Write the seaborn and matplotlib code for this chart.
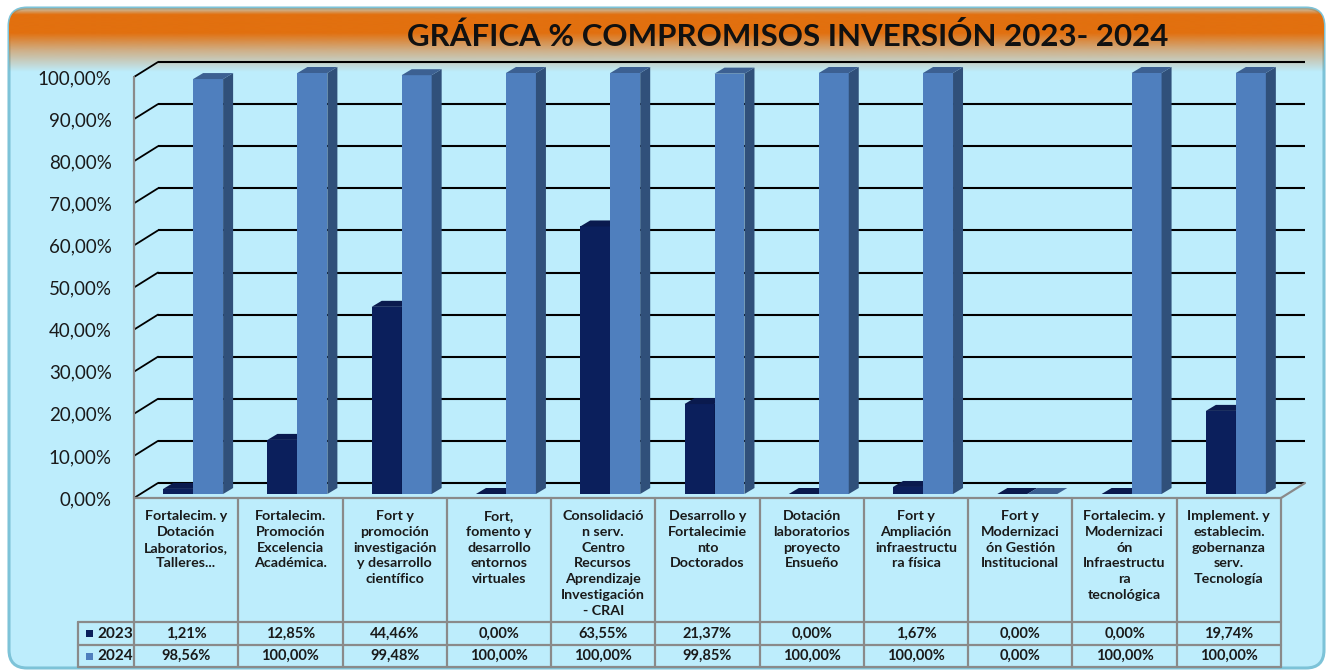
import numpy as np
import pandas as pd
import matplotlib
matplotlib.use('Agg')
import matplotlib.pyplot as plt
import seaborn as sns
from matplotlib.patches import FancyBboxPatch, Polygon, Rectangle
from matplotlib.colors import to_rgb

# Data
categories = [
    "Fortalecim. y\nDotación\nLaboratorios,\nTalleres...",
    "Fortalecim.\nPromoción\nExcelencia\nAcadémica.",
    "Fort y\npromoción\ninvestigación\ny desarrollo\ncientífico",
    "Fort,\nfomento y\ndesarrollo\nentornos\nvirtuales",
    "Consolidació\nn serv.\nCentro\nRecursos\nAprendizaje\nInvestigación\n- CRAI",
    "Desarrollo y\nFortalecimie\nnto\nDoctorados",
    "Dotación\nlaboratorios\nproyecto\nEnsueño",
    "Fort y\nAmpliación\ninfraestructu\nra física",
    "Fort y\nModernizaci\nón Gestión\nInstitucional",
    "Fortalecim. y\nModernizaci\nón\nInfraestructu\nra\ntecnológica",
    "Implement. y\nestablecim.\ngobernanza\nserv.\nTecnología",
]
years = ["2023", "2024"]
values_2023 = [1.21, 12.85, 44.46, 0.00, 63.55, 21.37, 0.00, 1.67, 0.00, 0.00, 19.74]
values_2024 = [98.56, 100.00, 99.48, 100.00, 100.00, 99.85, 100.00, 100.00, 0.00, 100.00, 100.00]
title = "GRÁFICA % COMPROMISOS INVERSIÓN 2023- 2024"

# colours
BG = "#BDEDFC"
FRAME = "#7DC3D8"
ORANGE = "#E2700F"
GRID_GRAY = "#8A8A8A"
front_cols = {"2023": "#0B1F5C", "2024": "#4F7FBE"}
side_cols = {"2023": "#061642", "2024": "#30507A"}
top_cols = {"2023": "#0A1A4E", "2024": "#3C6092"}

sns.set_theme(style="white")
plt.rcParams['font.family'] = ['Lato', 'DejaVu Sans']

W, H = 1333, 670
fig = plt.figure(figsize=(W / 100, H / 100), dpi=100)
fig.patch.set_facecolor("white")

# background frame (pixel coordinates)
bg = fig.add_axes([0, 0, 1, 1], zorder=0)
bg.set_xlim(0, W)
bg.set_ylim(H, 0)
bg.axis("off")
frame = FancyBboxPatch((9, 8), W - 18, H - 10, boxstyle="round,pad=0,rounding_size=18",
                       facecolor=BG, edgecolor=FRAME, linewidth=2.2)
bg.add_patch(frame)
# orange gradient at top
n = 200
ys = np.linspace(0, 1, n)
alpha = np.interp(ys, [0.0, 0.1, 0.39, 0.66, 1.0], [0.3, 1.0, 1.0, 0.5, 0.0])
grad = np.zeros((n, 1, 4))
grad[:, 0, :3] = to_rgb(ORANGE)
grad[:, 0, 3] = alpha
im = bg.imshow(grad, extent=(9, W - 9, 72, 8), aspect="auto", zorder=2)
im.set_clip_path(frame)
bg.text(788, 36, title, ha="center", va="center", fontsize=22.5, fontweight="bold",
        color="#111111", zorder=3)

# main plot axes: front plane 0% at y=498 px, 421 px per 100 %
x_left, x_right = 134, 1281
y_zero, y_top = 498, 50
ppu_y = 4.21
ax = fig.add_axes([x_left / W, (H - y_zero) / H, (x_right - x_left) / W, (y_zero - y_top) / H],
                  zorder=1)
ax.set_facecolor("none")

df = pd.DataFrame({
    "cat": list(range(len(categories))) * 2,
    "year": [years[0]] * len(categories) + [years[1]] * len(categories),
    "val": values_2023 + values_2024,
})
sns.barplot(data=df, x="cat", y="val", hue="year", hue_order=years,
            palette=[front_cols[y] for y in years], width=0.575, saturation=1,
            legend=False, ax=ax, linewidth=0, err_kws={"linewidth": 0})

ax.set_xlim(-0.5, len(categories) - 0.5)
ax.set_ylim(0, (y_zero - y_top) / ppu_y)
ppu_x = (x_right - x_left) / len(categories)

ticks = np.arange(0, 101, 10)
ax.set_yticks(ticks)
ax.set_yticklabels([f"{t:.2f}%".replace(".", ",") for t in ticks], fontsize=13.5, color="#1a1a1a")
ax.tick_params(axis="y", length=0, pad=16)
ax.set_xticks([])
ax.set_xlabel("")
ax.set_ylabel("")
for s in ax.spines.values():
    s.set_visible(False)

# walls: back gridlines and depth diagonals
wall_dx, wall_dy = 24 / ppu_x, 15 / ppu_y
xr = len(categories) - 0.5
for t in ticks:
    ax.plot([-0.5 + wall_dx, xr + wall_dx], [t + wall_dy, t + wall_dy], color="black",
            lw=1.5, zorder=1, clip_on=False, solid_capstyle="butt")
    ax.plot([-0.5, -0.5 + wall_dx], [t, t + wall_dy], color="black", lw=1.3, zorder=1,
            clip_on=False)
ax.plot([-0.5, -0.5], [0, 100], color=GRID_GRAY, lw=1.6, zorder=1, clip_on=False)
ax.plot([xr, xr + wall_dx], [0, wall_dy], color=GRID_GRAY, lw=1.6, zorder=1, clip_on=False)

# 3D effect on the seaborn bars
sx, sy = 7 / ppu_x, 4 / ppu_y
bdx, bdy = 10 / ppu_x, 6 / ppu_y
bars = [p for p in ax.patches if isinstance(p, Rectangle)]
for i, p in enumerate(bars):
    yr = years[i // len(categories)]
    z = 3 if yr == years[0] else 4
    x0, w, h = p.get_x() + sx, p.get_width(), p.get_height()
    p.set_x(x0)
    p.set_y(sy)
    p.set_zorder(z)
    side = Polygon([(x0 + w, sy), (x0 + w, sy + h), (x0 + w + bdx, sy + h + bdy),
                    (x0 + w + bdx, sy + bdy)], closed=True, facecolor=side_cols[yr],
                   edgecolor="none", zorder=z)
    top = Polygon([(x0, sy + h), (x0 + w, sy + h), (x0 + w + bdx, sy + h + bdy),
                   (x0 + bdx, sy + h + bdy)], closed=True, facecolor=top_cols[yr],
                  edgecolor="none", zorder=z)
    ax.add_patch(side)
    ax.add_patch(top)

# data table below the plot
tab_left = 78
tab = fig.add_axes([x_left / W, 0, (x_right - x_left) / W, (H - y_zero) / H], zorder=2)
tab.set_xlim(-0.5, xr)
tab.set_ylim(H, y_zero)
tab.axis("off")
row_top, row_mid, row_low, row_bot = 498, 622, 645, 667
lx = -0.5 - (x_left - tab_left) / ppu_x
lk = dict(color=GRID_GRAY, lw=1.6, clip_on=False)
for k in range(len(categories) + 1):
    tab.plot([k - 0.5, k - 0.5], [row_top, row_bot], **lk)
tab.plot([lx, lx], [row_mid, row_bot], **lk)
tab.plot([-0.5, xr], [row_top, row_top], **lk)
for yy in (row_mid, row_low, row_bot):
    tab.plot([lx, xr], [yy, yy], **lk)

for k, lab in enumerate(categories):
    tab.text(k, 510, lab, ha="center", va="top", fontsize=10.3, fontweight="bold",
             color="#1a1a1a", linespacing=1.38)
    tab.text(k, (row_mid + row_low) / 2, f"{values_2023[k]:.2f}%".replace(".", ","),
             ha="center", va="center", fontsize=10.5, fontweight="bold", color="#1a1a1a")
    tab.text(k, (row_low + row_bot) / 2, f"{values_2024[k]:.2f}%".replace(".", ","),
             ha="center", va="center", fontsize=10.5, fontweight="bold", color="#1a1a1a")

for yr, yc in zip(years, [(row_mid + row_low) / 2, (row_low + row_bot) / 2]):
    kx = lx + 8 / ppu_x
    tab.add_patch(Rectangle((kx, yc - 3.5), 7 / ppu_x, 7, facecolor=front_cols[yr],
                            edgecolor="none", clip_on=False))
    tab.text(kx + 11 / ppu_x, yc, yr, ha="left", va="center", fontsize=11,
             fontweight="bold", color="#1a1a1a", clip_on=False)

fig.savefig("out.png", dpi=100, facecolor="white")
